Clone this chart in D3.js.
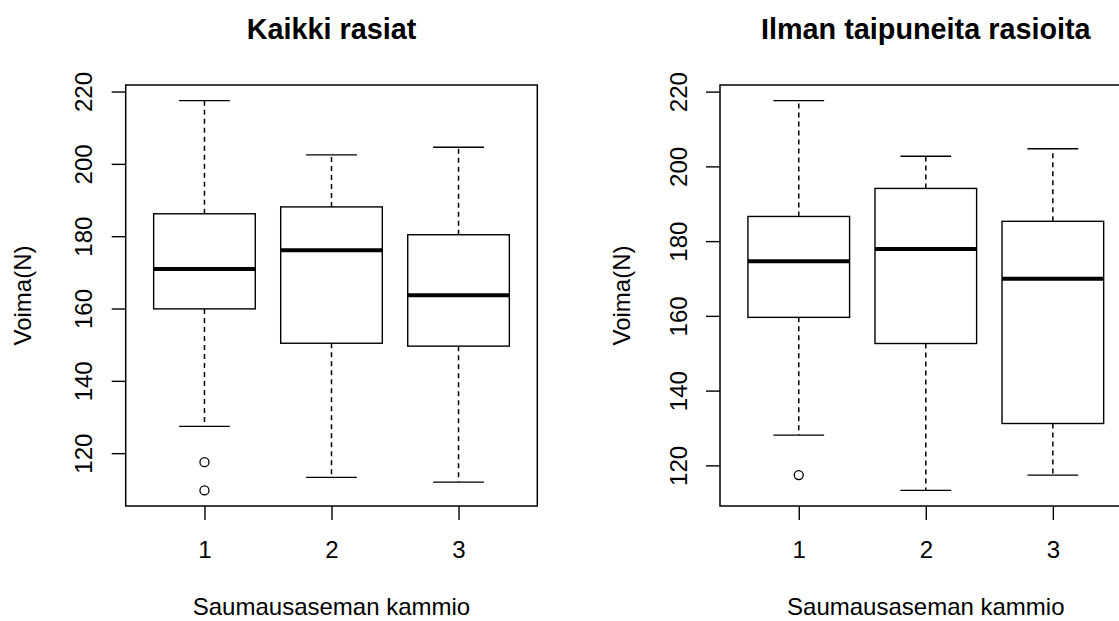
<!DOCTYPE html>
<html>
<head>
<meta charset="utf-8">
<script src="https://cdn.jsdelivr.net/npm/d3@7"></script>
<style>
  html, body { margin: 0; padding: 0; background: #fff; }
  svg { display: block; }
  text { font-family: "Liberation Sans", Arial, sans-serif; fill: #000; }
</style>
</head>
<body>
<svg id="chart" width="1119" height="621"></svg>
<script>
// ---- Data ----
const categories = ["1", "2", "3"];
const yTicks = [120, 140, 160, 180, 200, 220];
const titles = ["Kaikki rasiat", "Ilman taipuneita rasioita"];
const xLabel = "Saumausaseman kammio";
const yLabel = "Voima(N)";

// Panel 1: Kaikki rasiat
const p1WhiskerLow  = [127.4, 113.3, 112.0];
const p1Q1          = [159.9, 150.4, 149.6];
const p1Median      = [170.9, 176.1, 163.7];
const p1Q3          = [186.2, 188.1, 180.4];
const p1WhiskerHigh = [217.5, 202.5, 204.6];
const p1Outliers    = [[117.5, 109.7], [], []];

// Panel 2: Ilman taipuneita rasioita
const p2WhiskerLow  = [128.1, 113.3, 117.4];
const p2Q1          = [159.6, 152.6, 131.2];
const p2Median      = [174.6, 177.9, 169.9];
const p2Q3          = [186.6, 194.1, 185.3];
const p2WhiskerHigh = [217.6, 202.7, 204.7];
const p2Outliers    = [[117.4], [], []];

// ---- Layout ----
const svg = d3.select("#chart");
const panels = [
  { left: 125.7, right: 537.3, top: 85, bottom: 506, ylabX: 30.5,
    title: titles[0], lo: p1WhiskerLow, q1: p1Q1, med: p1Median, q3: p1Q3, hi: p1WhiskerHigh, out: p1Outliers },
  { left: 720, right: 1131.6, top: 85, bottom: 506, ylabX: 629.5,
    title: titles[1], lo: p2WhiskerLow, q1: p2Q1, med: p2Median, q3: p2Q3, hi: p2WhiskerHigh, out: p2Outliers }
];

const baseFont = 24;

panels.forEach(p => {
  const n = categories.length;
  const xr = n;
  const x = d3.scaleLinear()
    .domain([0.5 - 0.04 * xr, n + 0.5 + 0.04 * xr])
    .range([p.left, p.right]);

  const allVals = [].concat(p.lo, p.hi, ...p.out);
  const ymin = d3.min(allVals), ymax = d3.max(allVals);
  const ext = 0.04 * (ymax - ymin);
  const y = d3.scaleLinear()
    .domain([ymin - ext, ymax + ext])
    .range([p.bottom, p.top]);

  const g = svg.append("g");

  const boxHalf = 0.4, stapleHalf = 0.2;
  categories.forEach((c, i) => {
    const cx = i + 1;
    const bg = g.append("g");
    bg.append("line")
      .attr("x1", x(cx)).attr("x2", x(cx))
      .attr("y1", y(p.q3[i])).attr("y2", y(p.hi[i]))
      .attr("stroke", "#000").attr("stroke-width", 1.5)
      .attr("stroke-dasharray", "5,4");
    bg.append("line")
      .attr("x1", x(cx)).attr("x2", x(cx))
      .attr("y1", y(p.q1[i])).attr("y2", y(p.lo[i]))
      .attr("stroke", "#000").attr("stroke-width", 1.5)
      .attr("stroke-dasharray", "5,4");
    [p.hi[i], p.lo[i]].forEach(v => {
      bg.append("line")
        .attr("x1", x(cx - stapleHalf)).attr("x2", x(cx + stapleHalf))
        .attr("y1", y(v)).attr("y2", y(v))
        .attr("stroke", "#000").attr("stroke-width", 1.4);
    });
    bg.append("rect")
      .attr("x", x(cx - boxHalf))
      .attr("y", y(p.q3[i]))
      .attr("width", x(cx + boxHalf) - x(cx - boxHalf))
      .attr("height", y(p.q1[i]) - y(p.q3[i]))
      .attr("fill", "#fff").attr("stroke", "#000").attr("stroke-width", 1.4);
    bg.append("line")
      .attr("x1", x(cx - boxHalf)).attr("x2", x(cx + boxHalf))
      .attr("y1", y(p.med[i])).attr("y2", y(p.med[i]))
      .attr("stroke", "#000").attr("stroke-width", 4);
    p.out[i].forEach(v => {
      bg.append("circle")
        .attr("cx", x(cx)).attr("cy", y(v)).attr("r", 4.5)
        .attr("fill", "none").attr("stroke", "#000").attr("stroke-width", 1.3);
    });
  });

  g.append("rect")
    .attr("x", p.left).attr("y", p.top)
    .attr("width", p.right - p.left).attr("height", p.bottom - p.top)
    .attr("fill", "none").attr("stroke", "#000").attr("stroke-width", 1.5);

  const yAxis = d3.axisLeft(y).tickValues(yTicks).tickSize(14).tickFormat(d3.format("d"));
  const ya = g.append("g").attr("transform", `translate(${p.left},0)`).call(yAxis);
  ya.select(".domain").remove();
  ya.selectAll(".tick line").attr("stroke", "#000").attr("stroke-width", 1.4);
  ya.selectAll(".tick text")
    .attr("x", null).attr("dy", null)
    .attr("transform", "translate(-33.5,0) rotate(-90)")
    .attr("text-anchor", "middle")
    .style("font-size", baseFont + "px")
    .style("font-family", "Liberation Sans, Arial, sans-serif")
    .attr("fill", "#000");

  const xAxis = d3.axisBottom(x).tickValues(categories.map((c, i) => i + 1))
    .tickFormat((d, i) => categories[i]).tickSize(14);
  const xa = g.append("g").attr("transform", `translate(0,${p.bottom})`).call(xAxis);
  xa.select(".domain").remove();
  xa.selectAll(".tick line").attr("stroke", "#000").attr("stroke-width", 1.4);
  xa.selectAll(".tick text")
    .attr("y", 52).attr("dy", null)
    .style("font-size", baseFont + "px")
    .style("font-family", "Liberation Sans, Arial, sans-serif")
    .attr("fill", "#000");

  const cxMid = (p.left + p.right) / 2;
  g.append("text")
    .attr("x", cxMid).attr("y", 39)
    .attr("text-anchor", "middle")
    .style("font-size", (baseFont * 1.2) + "px")
    .style("font-weight", "bold")
    .text(p.title);

  g.append("text")
    .attr("x", cxMid).attr("y", 615)
    .attr("text-anchor", "middle")
    .style("font-size", baseFont + "px")
    .text(xLabel);

  g.append("text")
    .attr("transform", `translate(${p.ylabX},${(p.top + p.bottom) / 2}) rotate(-90)`)
    .attr("text-anchor", "middle")
    .style("font-size", baseFont + "px")
    .text(yLabel);
});
</script>
</body>
</html>
